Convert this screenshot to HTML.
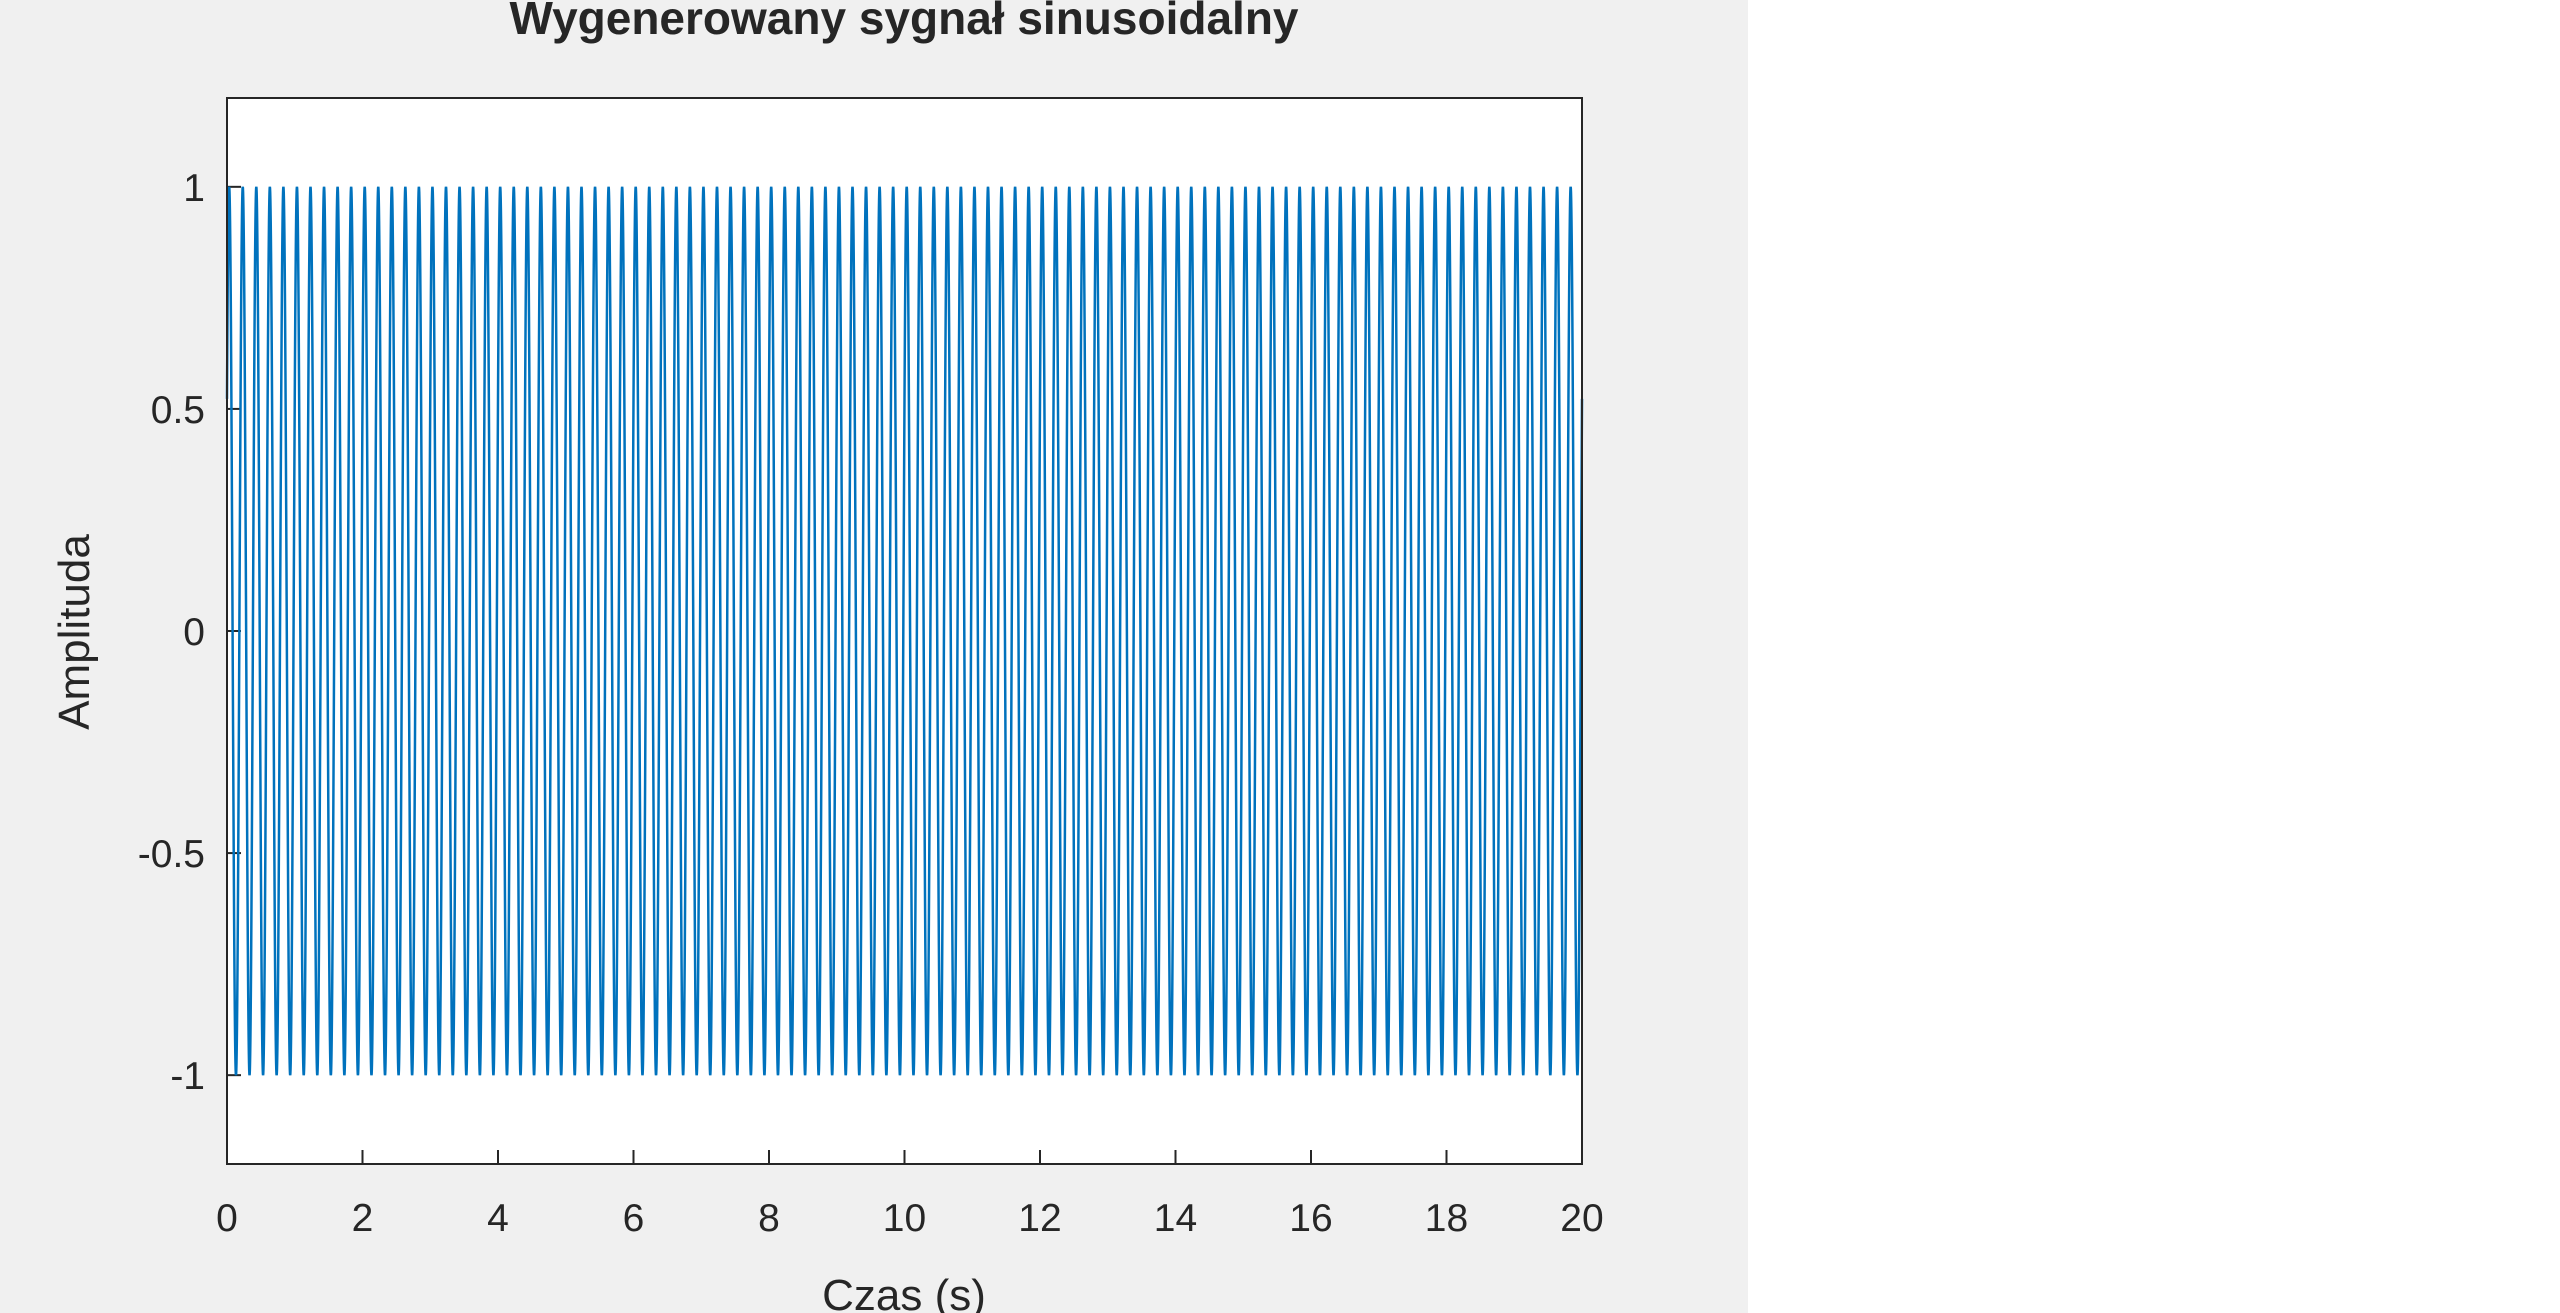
<!DOCTYPE html>
<html><head><meta charset="utf-8"><style>
html,body{margin:0;padding:0;background:#fff;}
svg{display:block;}
text{font-family:"Liberation Sans",sans-serif;fill:#262626;}
</style></head><body>
<svg id="chart" width="2560" height="1313">
<rect x="0" y="0" width="1748" height="1313" fill="#f0f0f0"/>
<rect x="227" y="98" width="1355" height="1066" fill="#fff"/>
<g id="ticks"></g>
<g id="series"></g>
<rect x="227" y="98" width="1355" height="1066" fill="none" stroke="#262626" stroke-width="2"/>
<text x="904" y="34" text-anchor="middle" font-size="46" font-weight="bold" fill="#000">Wygenerowany sygnał sinusoidalny</text>
<text x="904" y="1310" text-anchor="middle" font-size="44">Czas (s)</text>
<text transform="translate(89,632) rotate(-90)" text-anchor="middle" font-size="44">Amplituda</text>
</svg>
<script>
const xTicks = [0,2,4,6,8,10,12,14,16,18,20];
const yTicks = [-1,-0.5,0,0.5,1];
const yTickLabels = ["-1","-0.5","0","0.5","1"];
const signalFrequency = [5];
const signalAmplitude = [1];
const signalPhase = [0.55];
const timeRange = [0,20];
const L=227,R=1582,T=98,B=1164;
const xs = v => L + (v-0)/(20-0)*(R-L);
const ys = v => B - (v+1.2)/2.4*(B-T);
const NS="http://www.w3.org/2000/svg";
const tg=document.getElementById('ticks');
xTicks.forEach(v=>{
  const l=document.createElementNS(NS,'line');
  l.setAttribute('x1',xs(v));l.setAttribute('x2',xs(v));l.setAttribute('y1',B);l.setAttribute('y2',B-14);
  l.setAttribute('stroke','#262626');l.setAttribute('stroke-width','2');
  
  
  tg.appendChild(l);
  const t=document.createElementNS(NS,'text');
  t.setAttribute('x',xs(v));t.setAttribute('y',1231);t.setAttribute('text-anchor','middle');t.setAttribute('font-size','39');
  t.textContent=v;
  
  
  tg.appendChild(t);
});
yTicks.forEach((v,i)=>{
  const l=document.createElementNS(NS,'line');
  l.setAttribute('x1',L);l.setAttribute('x2',L+14);l.setAttribute('y1',ys(v));l.setAttribute('y2',ys(v));
  l.setAttribute('stroke','#262626');l.setAttribute('stroke-width','2');
  
  
  tg.appendChild(l);
  const t=document.createElementNS(NS,'text');
  t.setAttribute('x',205);t.setAttribute('y',ys(v)+14);t.setAttribute('text-anchor','end');t.setAttribute('font-size','39');
  t.textContent=yTickLabels[i];
  
  
  tg.appendChild(t);
});
let d='';
const n=8000;
for(let i=0;i<=n;i++){
  const t=timeRange[0]+(timeRange[1]-timeRange[0])*i/n;
  const v=signalAmplitude[0]*Math.sin(2*Math.PI*signalFrequency[0]*t+signalPhase[0]);
  d+=(i?'L':'M')+xs(t).toFixed(2)+','+ys(v).toFixed(2);
}
const p=document.createElementNS(NS,'path');
p.setAttribute('d',d);p.setAttribute('fill','none');p.setAttribute('stroke','#0072bd');p.setAttribute('stroke-width','2.5');


document.getElementById('series').appendChild(p);
</script>
</body></html>
